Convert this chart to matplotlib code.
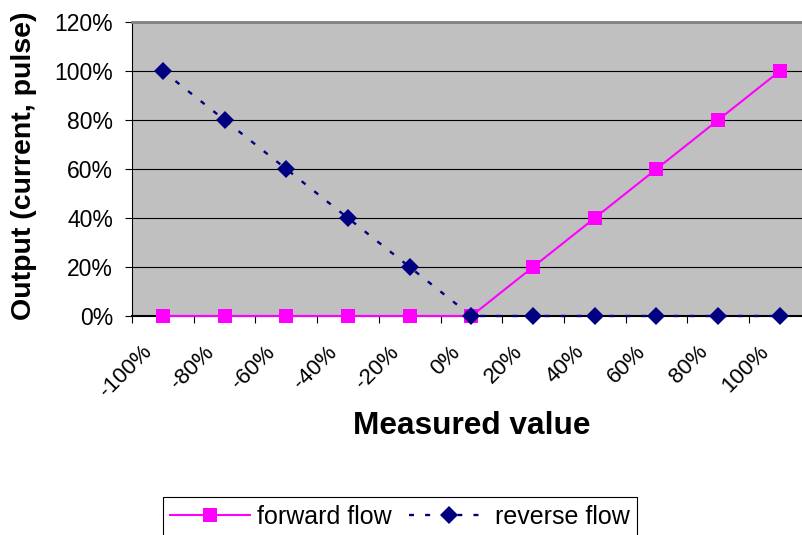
import matplotlib
matplotlib.use('Agg')
import matplotlib.pyplot as plt
from matplotlib.transforms import ScaledTranslation
from matplotlib.ticker import FixedLocator, FuncFormatter

plt.rcParams['font.family'] = ['Liberation Sans', 'DejaVu Sans']
plt.rcParams['lines.scale_dashes'] = False

# data
categories = ['-100%', '-80%', '-60%', '-40%', '-20%', '0%',
              '20%', '40%', '60%', '80%', '100%']
forward_flow = [0, 0, 0, 0, 0, 0, 20, 40, 60, 80, 100]
reverse_flow = [100, 80, 60, 40, 20, 0, 0, 0, 0, 0, 0]
y_ticks = [0, 20, 40, 60, 80, 100, 120]

fig = plt.figure(figsize=(8.02, 5.35), dpi=100)
ax = fig.add_axes([132 / 802, 1 - 316 / 535, 678.7 / 802, 294 / 535])
ax.set_facecolor('#C0C0C0')

x = list(range(len(categories)))
ax.plot(x, forward_flow, color='#FF00FF', lw=1.5, marker='s', markersize=10.5,
        markeredgewidth=0, label='forward flow', clip_on=False, zorder=3)
ax.plot(x, reverse_flow, color='#000080', lw=1.7, dashes=(3.6, 8), marker='D',
        markersize=9, markeredgewidth=0, label='reverse flow', clip_on=False, zorder=4)

ax.set_xlim(-0.5, len(categories) - 0.5)
ax.set_ylim(0, 120)
ax.set_yticks(y_ticks)
ax.yaxis.set_major_formatter(FuncFormatter(lambda v, p: f'{v:.0f}%'))
ax.yaxis.grid(True, color='black', lw=0.8)
ax.set_axisbelow(True)

ax.set_xticks(x)
ax.set_xticklabels(categories, rotation=45, ha='right', va='center',
                   rotation_mode='anchor')
ax.xaxis.set_minor_locator(FixedLocator([i - 0.5 for i in range(len(categories) + 1)]))
ax.tick_params(axis='x', which='major', length=0, pad=0, labelsize=16)
ax.tick_params(axis='x', which='minor', length=5, width=0.8, direction='out', color='black')
ax.tick_params(axis='y', length=5, width=0.8, direction='out', pad=8.5, labelsize=16.5)
# anchor the end of each rotated label just below its category
for lab in ax.get_xticklabels():
    lab.set_transform(lab.get_transform() + ScaledTranslation(-0.14, -0.33, fig.dpi_scale_trans))

ax.spines['top'].set_color('#808080')
ax.spines['top'].set_linewidth(2)
ax.spines['right'].set_visible(False)
ax.spines['left'].set_color('black')
ax.spines['bottom'].set_color('black')
ax.spines['bottom'].set_linewidth(1.5)

fig.text(24 / 802, 1 - 166 / 535, 'Output (current, pulse)', rotation=90,
         ha='center', va='center', fontsize=20.5, fontweight='bold')
fig.text(472 / 802, 1 - 426 / 535, 'Measured value', ha='center', va='center',
         fontsize=22.8, fontweight='bold')

leg = fig.legend(loc='upper center', bbox_to_anchor=(400 / 802, 1 - 497 / 535),
                 ncol=2, fontsize=18, frameon=True, fancybox=False, framealpha=1,
                 edgecolor='black', borderpad=0.3, borderaxespad=0,
                 handlelength=3.2, handletextpad=0.25, columnspacing=0.7)
leg.get_frame().set_linewidth(0.8)

fig.savefig('out.png', dpi=100)
